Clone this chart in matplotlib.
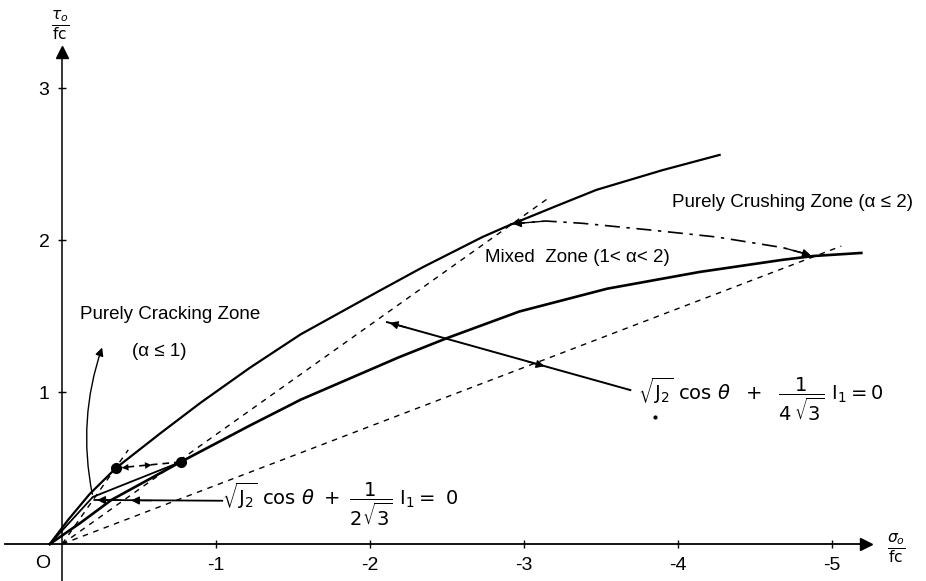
import matplotlib
matplotlib.use("Agg")
import matplotlib.pyplot as plt

plt.rcParams['font.family'] = ['Liberation Sans', 'DejaVu Sans']
plt.rcParams['mathtext.fontset'] = 'dejavusans'
plt.rcParams['axes.unicode_minus'] = False

# sigma_o/fc (compression negative) and tau_o/fc
upper_sigma = [0.08, -0.04, -0.18, -0.35, -0.64, -0.90, -1.22, -1.55, -2.05, -2.34, -2.73, -2.91, -3.20, -3.47, -3.90, -4.27]
upper_tau = [0.00, 0.16, 0.33, 0.50, 0.73, 0.93, 1.16, 1.38, 1.66, 1.82, 2.02, 2.10, 2.22, 2.33, 2.46, 2.56]

lower_sigma = [0.08, -0.12, -0.32, -0.77, -1.22, -1.55, -2.19, -2.50, -2.97, -3.54, -4.14, -4.68, -4.88, -5.19]
lower_tau = [0.00, 0.14, 0.29, 0.54, 0.78, 0.95, 1.23, 1.355, 1.53, 1.68, 1.79, 1.87, 1.895, 1.915]

middle_sigma = [0.08, -0.20, -0.77]
middle_tau = [0.00, 0.31, 0.54]

# boundary between cracking and crushing (dash-dot)
mixed_sigma = [-2.91, -3.14, -3.38, -3.82, -4.25, -4.68, -4.88]
mixed_tau = [2.105, 2.125, 2.11, 2.066, 2.02, 1.95, 1.895]

# dashed straight lines from the origin
ray_ends = [(-3.15, 2.27), (-5.06, 1.96), (-0.43, 0.62)]

# points where the construction lines meet the meridians
dots_sigma = [-0.35, -0.77]
dots_tau = [0.50, 0.54]

# annotation lines for the two conditions
line1_from, line1_to, line1_mid = (-1.04, 0.285), (-0.21, 0.29), (-0.43, 0.287)
line2_from, line2_to, line2_mid = (-3.69, 1.013), (-2.11, 1.46), (-3.15, 1.165)

x_ticks = [-1, -2, -3, -4, -5]
y_ticks = [1, 2, 3]

fig = plt.figure(figsize=(9.26, 5.81), dpi=100)
ax = fig.add_axes([0, 0, 1, 1])
ax.set_xlim(0.403, -5.61)
ax.set_ylim(-0.243, 3.579)

# axes through the origin
for side in ['top', 'right']:
    ax.spines[side].set_visible(False)
ax.spines['left'].set_position(('data', 0))
ax.spines['bottom'].set_position(('data', 0))
ax.spines['left'].set_bounds(-0.243, 3.24)
ax.spines['bottom'].set_bounds(0.37, -5.22)
ax.spines['left'].set_linewidth(1.1)
ax.spines['bottom'].set_linewidth(1.3)
ax.plot([0], [3.24], marker='^', color='k', markersize=8, clip_on=False)
ax.plot([-5.22], [0], marker='>', color='k', markersize=8, clip_on=False)

ax.set_xticks(x_ticks)
ax.set_yticks(y_ticks)
ax.tick_params(axis='both', direction='inout', length=6, width=1, labelsize=14)
ax.tick_params(axis='x', pad=6)
ax.tick_params(axis='y', pad=6)

ax.text(0.123, -0.125, 'O', fontsize=14, ha='center', va='center')
ax.text(0.013, 3.41, r'$\frac{\tau_o}{\mathrm{fc}}$', fontsize=16, ha='center', va='center')
ax.text(-5.42, -0.03, r'$\frac{\sigma_o}{\mathrm{fc}}$', fontsize=16, ha='center', va='center')

# meridians
ax.plot(upper_sigma, upper_tau, color='k', lw=1.6)
ax.plot(lower_sigma, lower_tau, color='k', lw=1.9)
ax.plot(middle_sigma, middle_tau, color='k', lw=1.3)

for s, t in ray_ends:
    ax.plot([0, s], [0, t], color='k', lw=1.0, ls=(0, (4, 4)))

ax.plot(mixed_sigma, mixed_tau, color='k', lw=1.2, ls=(0, (9, 4, 2, 4)))
arrow = dict(arrowstyle='-|>', color='k', lw=1.0, mutation_scale=12)
ax.annotate('', xy=(mixed_sigma[0], mixed_tau[0]), xytext=(mixed_sigma[1], mixed_tau[1]), arrowprops=arrow)
ax.annotate('', xy=(mixed_sigma[-1], mixed_tau[-1]), xytext=(mixed_sigma[-2], mixed_tau[-2]), arrowprops=arrow)

# dashed link between the two dots
ax.plot(dots_sigma, dots_tau, color='k', lw=1.2, ls=(0, (4, 3)))
ax.annotate('', xy=(-0.60, 0.522), xytext=(dots_sigma[0], dots_tau[0]), arrowprops=dict(arrow, lw=0))
ax.annotate('', xy=(dots_sigma[0] - 0.02, dots_tau[0]), xytext=(-0.52, 0.512), arrowprops=dict(arrow, lw=0))
ax.plot(dots_sigma, dots_tau, 'o', color='k', markersize=7)

# condition lines
ax.plot([line1_from[0], line1_to[0]], [line1_from[1], line1_to[1]], color='k', lw=1.3)
ax.annotate('', xy=line1_to, xytext=(-0.40, 0.288), arrowprops=arrow)
ax.annotate('', xy=line1_mid, xytext=(-0.60, 0.286), arrowprops=arrow)
ax.plot([line2_from[0], line2_to[0]], [line2_from[1], line2_to[1]], color='k', lw=1.4)
ax.annotate('', xy=line2_to, xytext=(-2.25, 1.42), arrowprops=arrow)
ax.annotate('', xy=line2_mid, xytext=(-3.00, 1.207), arrowprops=arrow)
ax.plot([-3.85], [0.835], 'o', color='k', markersize=2)

ax.text(line1_from[0], 0.26, r'$\sqrt{\mathrm{J}_2}\ \cos\,\theta\ +\ \dfrac{1}{2\sqrt{3}}\ \mathrm{I}_1 =\ 0$',
        fontsize=14, ha='left', va='center')
ax.text(-3.74, 0.955, r'$\sqrt{\mathrm{J}_2}\ \cos\,\theta\ \ +\ \ \dfrac{1}{4\,\sqrt{3}}\ \mathrm{I}_1 = 0$',
        fontsize=14, ha='left', va='center')

ax.text(-0.117, 1.513, 'Purely Cracking Zone', fontsize=13.5, ha='left', va='center')
ax.text(-0.455, 1.27, '(α ≤ 1)', fontsize=13.5, ha='left', va='center')
ax.text(-3.96, 2.25, 'Purely Crushing Zone (α ≤ 2)', fontsize=13.5, ha='left', va='center')
ax.text(-2.747, 1.888, 'Mixed  Zone (1< α< 2)', fontsize=13.5, ha='left', va='center')

# curved pointer from the zone label down to the junction
ax.annotate('', xy=(-0.266, 1.31), xytext=(-0.20, 0.31),
            arrowprops=dict(arrowstyle='-|>', color='k', lw=1.0, mutation_scale=12,
                            connectionstyle='arc3,rad=-0.14'))

fig.savefig('out.png', dpi=100)
